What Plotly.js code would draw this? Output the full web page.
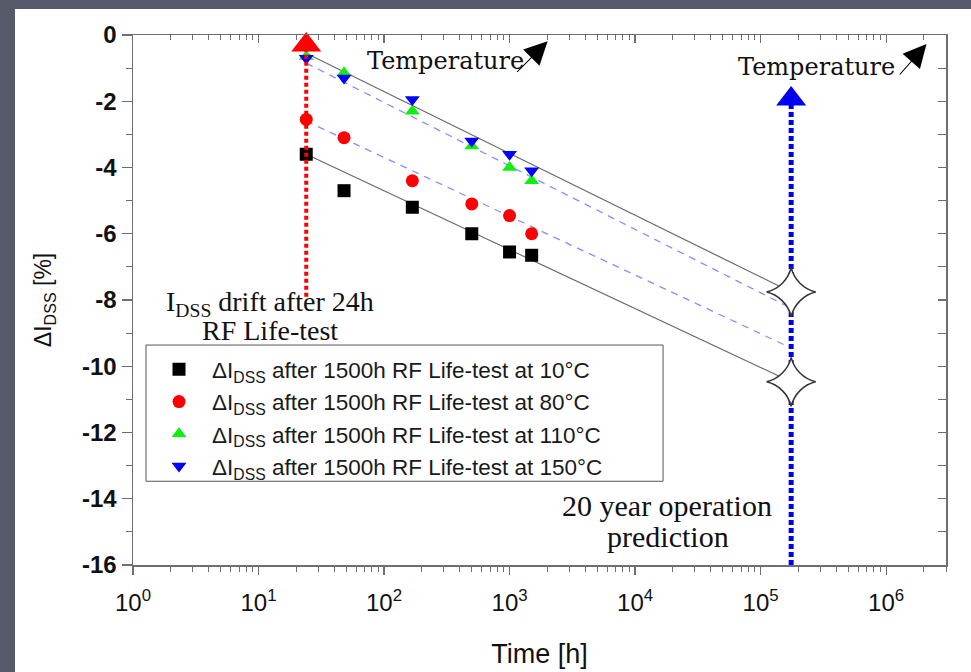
<!DOCTYPE html>
<html>
<head>
<meta charset="utf-8">
<script src="https://cdn.plot.ly/plotly-3.0.1.min.js"></script>
<style>
  html, body { margin: 0; padding: 0; background: #575a6b; width: 971px; height: 672px; overflow: hidden; }
  #chart { position: absolute; left: 15px; top: 9px; width: 956px; height: 663px; background: #ffffff; }
</style>
</head>
<body>
<div id="chart"></div>
<script>
// ---- data ----
const hours = [24, 48, 168, 500, 1000, 1500];
const d10  = [-3.6, -4.7, -5.2, -6.0, -6.55, -6.65];
const d80  = [-2.55, -3.1, -4.4, -5.1, -5.45, -6.0];
const d110 = [-0.65, -1.15, -2.3, -3.35, -4.0, -4.4];
const d150 = [-0.7, -1.3, -1.95, -3.2, -3.6, -4.1];

const seriesNames = [
  'ΔI<sub>DSS</sub> after 1500h RF Life-test at 10°C',
  'ΔI<sub>DSS</sub> after 1500h RF Life-test at 80°C',
  'ΔI<sub>DSS</sub> after 1500h RF Life-test at 110°C',
  'ΔI<sub>DSS</sub> after 1500h RF Life-test at 150°C'
];

// extrapolation (fit) lines from 24 h to 20 years
const fitHours   = [24, 175200];
const fitHiSolid = [-0.55, -7.76];
const fitHiDash  = [-0.85, -8.25];
const fitLoDash  = [-2.6, -9.45];
const fitLoSolid = [-3.6, -10.47];

// 20-year prediction points
const predHours  = [175200, 175200];
const predValues = [-7.76, -10.47];

// vertical arrows
const driftArrowX = [24, 24];
const driftArrowY = [-7.9, -0.3];
const lifeArrowX  = [175200, 175200];
const lifeArrowY  = [-16, -1.93];

const xTickVals = [1, 10, 100, 1000, 10000, 100000, 1000000];
const xTickText = ['10<sup>0</sup>', '10<sup>1</sup>', '10<sup>2</sup>', '10<sup>3</sup>', '10<sup>4</sup>', '10<sup>5</sup>', '10<sup>6</sup>'];
const yTickVals = [-16, -14, -12, -10, -8, -6, -4, -2, 0];
const yTickText = ['-16', '-14', '-12', '-10', '-8', '-6', '-4', '-2', '0'];

// minor log ticks 2..9 per decade (axis configuration)
const xMinor = [];
for (let k = 0; k <= 6; k++) for (let m = 2; m <= 9; m++) xMinor.push(m * Math.pow(10, k));

const axisColor = '#6e6e78';
const serif = '"Liberation Serif", "Times New Roman", serif';
const wideSerif = '"DejaVu Serif", "Liberation Serif", serif';
const sans = '"Liberation Sans", Arial, sans-serif';
const xRange = [0, Math.log10(3e6)];

function fitLine(y, dashed) {
  return {
    x: fitHours, y: y, mode: 'lines', showlegend: false, hoverinfo: 'skip',
    line: dashed ? {color: '#8a8cff', width: 1.3, dash: '7px,6px'} : {color: '#6a6a6a', width: 1.2}
  };
}

const traces = [
  fitLine(fitHiSolid, false),
  fitLine(fitHiDash, true),
  fitLine(fitLoDash, true),
  fitLine(fitLoSolid, false),
  {x: hours, y: d10, name: seriesNames[0], mode: 'markers', legendgroup: 'a',
   marker: {symbol: 'square', size: 13, color: '#000000'}},
  {x: hours, y: d80, name: seriesNames[1], mode: 'markers', legendgroup: 'b',
   marker: {symbol: 'circle', size: 13, color: '#ff0000'}},
  {x: hours, y: d110, name: seriesNames[2], mode: 'markers', legendgroup: 'c',
   marker: {symbol: 'triangle-up', size: 13, color: '#11ee11'}},
  {x: hours, y: d150, name: seriesNames[3], mode: 'markers', legendgroup: 'd',
   marker: {symbol: 'triangle-down', size: 13, color: '#0000ff'}},
  {x: driftArrowX, y: driftArrowY, mode: 'lines+markers', showlegend: false, hoverinfo: 'skip', cliponaxis: false,
   line: {color: '#ff0000', width: 4, dash: '4px,3px'},
   marker: {symbol: 'triangle-up', size: [0, 26], color: '#ff0000', opacity: 1, line: {width: 0}}},
  {x: lifeArrowX, y: lifeArrowY, mode: 'lines+markers', showlegend: false, hoverinfo: 'skip', cliponaxis: false,
   line: {color: '#0000ee', width: 5, dash: '5px,3px'},
   marker: {symbol: 'triangle-up', size: [0, 26], color: '#0000ee', opacity: 1, line: {width: 0}}},
  {x: predHours, y: predValues, xaxis: 'x2', yaxis: 'y2', mode: 'markers', showlegend: false, hoverinfo: 'skip', cliponaxis: false,
   marker: {symbol: 'star-diamond', size: 35, color: '#ffffff', line: {color: '#333333', width: 1.5}}}
];

function txt(x, y, t, font) {
  return {xref: 'paper', yref: 'paper', x: x, y: y, xanchor: 'center', yanchor: 'middle', text: t, showarrow: false, font: font};
}
function arrow(x, y, ax, ay) {
  return {xref: 'paper', yref: 'paper', x: x, y: y, text: '', showarrow: true, ax: ax, ay: ay,
          arrowhead: 2, arrowsize: 4.2, arrowwidth: 1.1, arrowcolor: '#000000'};
}
const fTemp = {family: wideSerif, size: 24, color: '#111111'};
const fNote = {family: serif, size: 28, color: '#111111'};
const fPred = {family: serif, size: 30, color: '#111111'};

const layout = {
  width: 956, height: 663,
  margin: {l: 118, r: 25, t: 26, b: 107},
  paper_bgcolor: '#ffffff', plot_bgcolor: '#ffffff',
  font: {family: sans, color: '#111111'},
  showlegend: true,
  legend: {
    x: 0.016, y: 0.409, xanchor: 'left', yanchor: 'top',
    bgcolor: 'rgba(255,255,255,0)', borderwidth: 0,
    font: {family: sans, size: 22.5, color: '#1a1a1a'},
    tracegroupgap: 0, itemwidth: 56
  },
  shapes: [
    // legend frame
    {type: 'rect', xref: 'paper', yref: 'paper', x0: 0.016, x1: 0.652, y0: 0.158, y1: 0.415,
     line: {color: '#555555', width: 1}, fillcolor: 'rgba(0,0,0,0)', layer: 'above'}
  ],
  xaxis: {
    type: 'log', range: xRange,
    tickmode: 'array', tickvals: xTickVals, ticktext: xTickText,
    ticks: 'outside', ticklen: 8, tickcolor: axisColor, tickwidth: 1.2, ticklabelstandoff: 8,
    minor: {tickmode: 'array', tickvals: xMinor, ticks: 'outside', ticklen: 5, tickcolor: axisColor, tickwidth: 1},
    showline: true, linecolor: axisColor, linewidth: 1.5, showgrid: false, zeroline: false,
    tickfont: {family: sans, size: 24, color: '#111111'},
    title: {text: 'Time [h]', font: {family: sans, size: 27, color: '#111111'}, standoff: 29}
  },
  yaxis: {
    range: [-16, 0], tickmode: 'array', tickvals: yTickVals, ticktext: yTickText,
    ticks: 'outside', ticklen: 10, tickcolor: axisColor, tickwidth: 1.2,
    minor: {dtick: 1, ticks: 'outside', ticklen: 6, tickcolor: axisColor, tickwidth: 1},
    showline: true, linecolor: axisColor, linewidth: 1.5, showgrid: false, zeroline: false,
    tickfont: {family: sans, size: 24, color: '#111111', weight: 'bold'},
    title: {text: 'ΔI<sub>DSS</sub> [%]', font: {family: sans, size: 23, color: '#111111'}, standoff: 24}
  },
  xaxis2: {
    type: 'log', range: xRange, overlaying: 'x', side: 'top', anchor: 'y2',
    tickmode: 'array', tickvals: xTickVals, showticklabels: false,
    ticks: 'inside', ticklen: 8, tickcolor: axisColor, tickwidth: 1.2,
    minor: {tickmode: 'array', tickvals: xMinor, ticks: 'inside', ticklen: 5, tickcolor: axisColor, tickwidth: 1},
    showline: true, linecolor: axisColor, linewidth: 1.5, showgrid: false, zeroline: false
  },
  yaxis2: {
    range: [-16, 0], dtick: 1, overlaying: 'y', side: 'right', anchor: 'x2',
    showticklabels: false, ticks: 'inside', ticklen: 8, tickcolor: axisColor, tickwidth: 1.2,
    showline: true, linecolor: axisColor, linewidth: 1.5, showgrid: false, zeroline: false
  },
  annotations: [
    txt(0.384, 0.951, 'Temperature', fTemp),
    txt(0.841, 0.94, 'Temperature', fTemp),
    arrow(0.51, 0.988, -32, 32),
    arrow(0.976, 0.983, -28, 32),
    txt(0.1685, 0.494, 'I<sub>DSS</sub> drift after 24h', fNote),
    txt(0.1685, 0.443, 'RF Life-test', fNote),
    txt(0.657, 0.113, '20 year operation', fPred),
    txt(0.658, 0.053, 'prediction', fPred)
  ]
};

Plotly.newPlot('chart', traces, layout, {displayModeBar: false, staticPlot: true});
</script>
</body>
</html>
